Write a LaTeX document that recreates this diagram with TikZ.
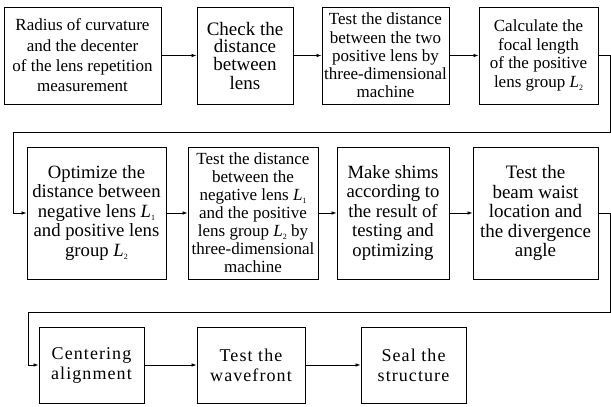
\documentclass[tikz,border=0pt]{standalone}
\usepackage{fontspec}
\setmainfont{Liberation Serif}
\newfontfamily\spacedrm{Liberation Serif}[LetterSpace=6]
\usepackage{tikz}
\usetikzlibrary{positioning, arrows.meta}
\tikzset{proc/.style={draw, line width=0.9pt, align=center, inner sep=1pt}}
\tikzset{fsz/.style args={#1/#2}{font=\fontsize{#1}{#2}\selectfont}}
\tikzset{wsz/.style args={#1/#2}{font=\spacedrm\fontsize{#1}{#2}\selectfont}}
\tikzset{dim/.style args={#1x#2}{minimum width=#1pt, minimum height=#2pt}}
\tikzset{arr/.style={draw, -{Latex[length=5pt, width=3.6pt]}, line width=0.8pt}}
\newcommand\Lg[1]{\textit{L}\raisebox{-0.4ex}{\fontsize{8}{8}\selectfont #1}}

\begin{document}
\begin{tikzpicture}[x=1pt, y=1pt]
	\useasboundingbox (0,0) rectangle (611,-407);

	% first row
	\node[proc, fsz=17/20.3, dim=157x97] (radius) at (82.5,-55.5)
		{Radius of curvature\\and the decenter\\of the lens repetition\\measurement};
	\node[proc, fsz=19/18, dim=96x97] (check) at (245,-55.5)
		{Check the\\distance\\between\\lens};
	\node[proc, fsz=17/18.3, dim=127x97] (testpos) at (385.5,-55.5)
		{Test the distance\\between the two\\positive lens by\\three-dimensional\\machine};
	\node[proc, fsz=17/18.6, dim=119x97] (focal) at (538.5,-55.5)
		{Calculate the\\focal length\\of the positive\\lens group \Lg{2}};

	% second row
	\node[proc, fsz=18.7/19.5, dim=139x132] (optim) at (96.5,-213)
		{Optimize the\\distance between\\negative lens \Lg{1}\\and positive lens\\group \Lg{2}};
	\node[proc, fsz=17/18, dim=130x132] (testneg) at (253,-213)
		{Test the distance\\between the\\negative lens \Lg{1}\\and the positive\\lens group \Lg{2} by\\three-dimensional\\machine};
	\node[proc, fsz=18.7/19.5, dim=112x132] (shims) at (393,-213)
		{Make shims\\according to\\the result of\\testing and\\optimizing};
	\node[proc, fsz=19/19.5, dim=125x132] (waist) at (535.5,-213)
		{Test the\\beam waist\\location and\\the divergence\\angle};

	% third row
	\node[proc, wsz=18/20, dim=105x76] (center) at (91.5,-365)
		{Centering\\alignment};
	\node[proc, wsz=18/20, dim=108x76] (wave) at (251,-365)
		{Test the\\wavefront};
	\node[proc, wsz=18/20, dim=105x76] (seal) at (413.5,-365)
		{Seal the\\structure};

	% turning points of the two return lines
	\coordinate (ra) at (610,-132);
	\coordinate (la) at (13,-132);
	\coordinate (rb) at (610,-312);
	\coordinate (lb) at (28,-312);

	\draw[arr] (radius) -- (check);
	\draw[arr] (check) -- (testpos);
	\draw[arr] (testpos) -- (focal);
	\draw[arr] (focal.east) -| (ra) -- (la) |- (optim.west);
	\draw[arr] (optim) -- (testneg);
	\draw[arr] (testneg) -- (shims);
	\draw[arr] (shims) -- (waist);
	\draw[arr] (waist.east) -| (rb) -- (lb) |- (center.west);
	\draw[arr] (center) -- (wave);
	\draw[arr] (wave) -- (seal);
\end{tikzpicture}
\end{document}
